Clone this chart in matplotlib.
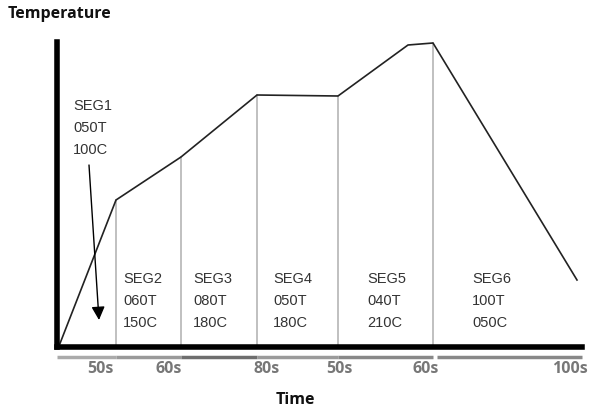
import matplotlib
matplotlib.use('Agg')
import matplotlib.pyplot as plt

# profile points (time in px-like units, temperature in px-like units)
time_pts = [0, 57, 122, 198, 279, 349, 374, 518]
temp_pts = [0, 146, 189, 251, 250, 301, 303, 66]

# segment boundaries (vertical gray lines)
seg_bounds = [57, 122, 198, 279, 374]

# segment labels and their anchor points (middle line)
seg_names = ['SEG1', 'SEG2', 'SEG3', 'SEG4', 'SEG5', 'SEG6']
seg_times = ['050T', '060T', '080T', '050T', '040T', '100T']
seg_temps = ['100C', '150C', '180C', '180C', '210C', '050C']
seg_label_x = [14, 64, 134, 214, 308, 413]
seg_label_y = [218, 45, 45, 45, 45, 45]

# time axis labels
tick_pos = [41, 110, 208, 280, 367, 511]
tick_labels = ['50s', '60s', '80s', '50s', '60s', '100s']

# gray bar under the axis
bar_starts = [-2, 57, 122, 198, 279, 378]
bar_ends = [57, 122, 198, 279, 374, 523]
bar_colors = ['#aaaaaa', '#999999', '#6e6e6e', '#9a9a9a', '#888888', '#888888']

fig = plt.figure(figsize=(5.91, 4.07), dpi=100)
ax = fig.add_axes([57 / 591, (407 - 347) / 407, 525 / 591, 305 / 407])
ax.set_xlim(-2, 523)
ax.set_ylim(-1, 304)

for s in ['top', 'right']:
    ax.spines[s].set_visible(False)
ax.spines['left'].set_linewidth(4)
ax.spines['bottom'].set_linewidth(4)
ax.spines['left'].set_color('black')
ax.spines['bottom'].set_color('black')

# vertical boundary lines up to the curve
for xb in seg_bounds:
    idx = time_pts.index(xb)
    ax.plot([xb, xb], [0, temp_pts[idx]], color='#bbbbbb', lw=1.3, zorder=1)

ax.plot(time_pts, temp_pts, color='#222222', lw=1.2, zorder=2)

for i in range(len(seg_names)):
    txt = seg_names[i] + '\n' + seg_times[i] + '\n' + seg_temps[i]
    ax.text(seg_label_x[i], seg_label_y[i], txt, fontsize=10.5, color='#333333',
            family='Liberation Sans', va='center', ha='left', linespacing=1.75)

ax.annotate('', xy=(40, 26), xytext=(30, 181),
            arrowprops=dict(arrowstyle='-|>', color='black', lw=1.0,
                            mutation_scale=20, shrinkA=0, shrinkB=0))

for xs, xe, c in zip(bar_starts, bar_ends, bar_colors):
    ax.plot([xs, xe], [-11, -11], color=c, lw=2.5, solid_capstyle='butt', clip_on=False)

ax.set_xticks(tick_pos)
ax.set_xticklabels(tick_labels, family='Open Sans', fontweight='bold', fontsize=11.5,
                   color='#777777')
ax.tick_params(axis='x', length=0, pad=10)
ax.set_yticks([])

fig.text(8 / 591, 1 - 14 / 407, 'Temperature', family='Open Sans', fontweight='bold',
         fontsize=11.5, va='center', ha='left', color='#111111')
fig.text(295 / 591, 1 - 400 / 407, 'Time', family='Open Sans', fontweight='bold',
         fontsize=11.5, va='center', ha='center', color='#111111')

fig.savefig('out.png', dpi=100)
